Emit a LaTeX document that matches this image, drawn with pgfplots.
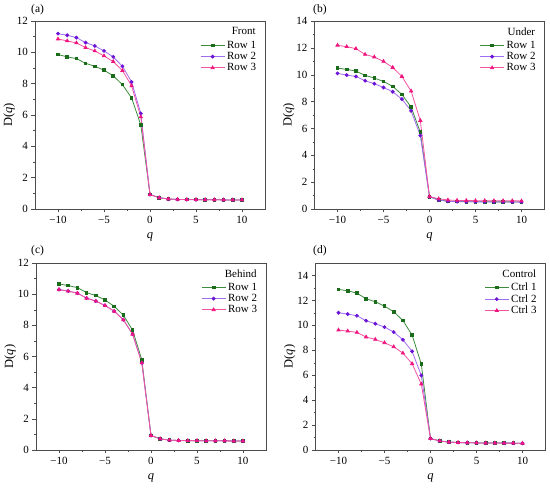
\documentclass[border=0pt]{standalone}
\usepackage{pgfplots}
\pgfplotsset{compat=1.18}
\usepackage{pgfplotstable}
\usepackage{fontspec}
\setmainfont{Liberation Serif}
\definecolor{greenM}{HTML}{1A6B1A}
\definecolor{greenL}{HTML}{3C8C3C}
\definecolor{purpleM}{HTML}{6B14D6}
\definecolor{purpleL}{HTML}{A06CF0}
\definecolor{pinkM}{HTML}{F0147E}
\definecolor{pinkL}{HTML}{F452A2}
\pgfplotstableread{
q r1 r2 r3
-10 9.86 11.19 10.85
-9 9.71 11.09 10.73
-8 9.60 10.94 10.60
-7 9.30 10.62 10.30
-6 9.11 10.41 10.09
-5 8.86 10.09 9.77
-4 8.50 9.71 9.41
-3 7.94 9.11 8.84
-2 7.09 8.11 7.86
-1 5.37 6.10 5.88
0 0.93 0.92 0.92
1 0.72 0.72 0.72
2 0.64 0.63 0.64
3 0.61 0.61 0.61
4 0.60 0.60 0.60
5 0.60 0.59 0.60
6 0.59 0.59 0.59
7 0.59 0.59 0.59
8 0.58 0.58 0.58
9 0.58 0.58 0.58
10 0.58 0.58 0.58
}\dataA
\pgfplotstableread{
q r1 r2 r3
-10 10.49 10.10 12.19
-9 10.40 9.97 12.09
-8 10.27 9.87 11.94
-7 9.95 9.55 11.51
-6 9.75 9.33 11.32
-5 9.50 9.05 10.99
-4 9.13 8.73 10.54
-3 8.53 8.18 9.87
-2 7.59 7.31 8.78
-1 5.72 5.47 6.59
0 0.92 0.90 0.93
1 0.68 0.66 0.76
2 0.58 0.57 0.67
3 0.56 0.55 0.64
4 0.55 0.54 0.63
5 0.54 0.53 0.62
6 0.54 0.53 0.62
7 0.53 0.52 0.61
8 0.53 0.52 0.61
9 0.53 0.52 0.61
10 0.52 0.51 0.60
}\dataB
\pgfplotstableread{
q r1 r2 r3
-10 10.66 10.30 10.29
-9 10.55 10.20 10.19
-8 10.42 10.07 10.06
-7 10.10 9.75 9.74
-6 9.91 9.56 9.55
-5 9.63 9.28 9.27
-4 9.22 8.91 8.90
-3 8.65 8.36 8.35
-2 7.69 7.44 7.43
-1 5.79 5.60 5.59
0 0.93 0.93 0.93
1 0.72 0.72 0.72
2 0.63 0.63 0.63
3 0.61 0.61 0.61
4 0.60 0.60 0.60
5 0.60 0.60 0.60
6 0.59 0.59 0.59
7 0.59 0.59 0.59
8 0.59 0.59 0.59
9 0.58 0.58 0.58
10 0.58 0.58 0.58
}\dataC
\pgfplotstableread{
q r1 r2 r3
-10 12.88 11.01 9.62
-9 12.77 10.90 9.54
-8 12.58 10.77 9.43
-7 12.13 10.37 9.06
-6 11.89 10.13 8.87
-5 11.54 9.86 8.60
-4 11.09 9.46 8.28
-3 10.39 8.84 7.77
-2 9.22 7.91 6.92
-1 6.89 5.98 5.29
0 0.92 0.92 0.92
1 0.73 0.73 0.73
2 0.63 0.63 0.63
3 0.60 0.60 0.60
4 0.58 0.58 0.58
5 0.57 0.57 0.57
6 0.56 0.56 0.56
7 0.56 0.56 0.56
8 0.55 0.55 0.55
9 0.55 0.55 0.55
10 0.54 0.54 0.54
}\dataD
\pgfplotsset{
  panel/.style={
    scale only axis, width=230pt,
    xmin=-12.5, xmax=12.5, ymin=0,
    xtick={-10,-5,0,5,10},
    xticklabels={−10,−5,0,5,10},
    minor x tick num=1, minor y tick num=1,
    tick pos=left, tick align=outside,
    major tick length=3.5pt, minor tick length=2pt,
    axis line style={black!70},
    every tick/.style={black!70},
    /pgf/number format/assume math mode=true,
    tick label style={font=\fontsize{11}{13}\selectfont},
    label style={font=\fontsize{12.5}{14}\selectfont},
    xlabel={\textit{q}}, ylabel={D(\textit{q})},
    xlabel style={at={([yshift=-28pt]axis description cs:0.5,0)}, anchor=center},
    ylabel style={at={([xshift=-26pt]axis description cs:0,0.5)}, anchor=center, rotate=0},
    legend cell align=left,
    legend style={draw=none, fill=none, at={(rel axis cs:0.975,0.91)}, anchor=north east,
      font=\fontsize{11}{12}\selectfont, inner sep=1pt, row sep=-1.6pt},
    legend image code/.code={
      \draw[#1,mark=none] (0pt,0pt) -- (24pt,0pt);
      \draw[#1,only marks] plot coordinates {(12pt,0pt)};},
  },
  s1/.style={color=greenL, line width=0.8pt, mark=square*, mark size=1.3pt, mark options={fill=greenM, draw=greenM}},
  s2/.style={color=purpleL, line width=0.8pt, mark=*, mark size=1.5pt, mark options={fill=purpleM, draw=purpleM}},
  s3/.style={color=pinkL, line width=0.8pt, mark=triangle*, mark size=1.8pt, mark options={fill=pinkM, draw=pinkM}},
}
\begin{document}
\begin{tikzpicture}
\useasboundingbox (0,0) rectangle (550pt,492pt);
% (a)
\begin{axis}[panel, height=188pt, ymax=12, ytick={0,2,...,12}, at={(35pt,283pt)}, anchor=south west]
\addplot[s1] table[x=q,y=r1]{\dataA}; \addlegendentry{Row 1}
\addplot[s2] table[x=q,y=r2]{\dataA}; \addlegendentry{Row 2}
\addplot[s3] table[x=q,y=r3]{\dataA}; \addlegendentry{Row 3}
\node[anchor=north east, font=\fontsize{11}{12}\selectfont, inner sep=0pt] at (rel axis cs:0.96,0.965) {Front};
\end{axis}
% (b)
\begin{axis}[panel, height=188pt, ymax=14, ytick={0,2,...,14}, at={(314.5pt,283pt)}, anchor=south west]
\addplot[s1] table[x=q,y=r1]{\dataB}; \addlegendentry{Row 1}
\addplot[s2] table[x=q,y=r2]{\dataB}; \addlegendentry{Row 2}
\addplot[s3] table[x=q,y=r3]{\dataB}; \addlegendentry{Row 3}
\node[anchor=north east, font=\fontsize{11}{12}\selectfont, inner sep=0pt] at (rel axis cs:0.96,0.965) {Under};
\end{axis}
% (c)
\begin{axis}[panel, height=187pt, ymax=12, ytick={0,2,...,12}, at={(36pt,42pt)}, anchor=south west]
\addplot[s1] table[x=q,y=r1]{\dataC}; \addlegendentry{Row 1}
\addplot[s2] table[x=q,y=r2]{\dataC}; \addlegendentry{Row 2}
\addplot[s3] table[x=q,y=r3]{\dataC}; \addlegendentry{Row 3}
\node[anchor=north east, font=\fontsize{11}{12}\selectfont, inner sep=0pt] at (rel axis cs:0.96,0.965) {Behind};
\end{axis}
% (d)
\begin{axis}[panel, height=187pt, ymax=15, ytick={0,2,...,14}, at={(315.5pt,42pt)}, anchor=south west]
\addplot[s1] table[x=q,y=r1]{\dataD}; \addlegendentry{Ctrl 1}
\addplot[s2] table[x=q,y=r2]{\dataD}; \addlegendentry{Ctrl 2}
\addplot[s3] table[x=q,y=r3]{\dataD}; \addlegendentry{Ctrl 3}
\node[anchor=north east, font=\fontsize{11}{12}\selectfont, inner sep=0pt] at (rel axis cs:0.96,0.965) {Control};
\end{axis}
\node[anchor=west, font=\fontsize{11.5}{13}\selectfont, inner sep=0pt] at (31pt,482pt) {(a)};
\node[anchor=west, font=\fontsize{11.5}{13}\selectfont, inner sep=0pt] at (313pt,482pt) {(b)};
\node[anchor=west, font=\fontsize{11.5}{13}\selectfont, inner sep=0pt] at (31pt,241pt) {(c)};
\node[anchor=west, font=\fontsize{11.5}{13}\selectfont, inner sep=0pt] at (313pt,241pt) {(d)};
\end{tikzpicture}
\end{document}
